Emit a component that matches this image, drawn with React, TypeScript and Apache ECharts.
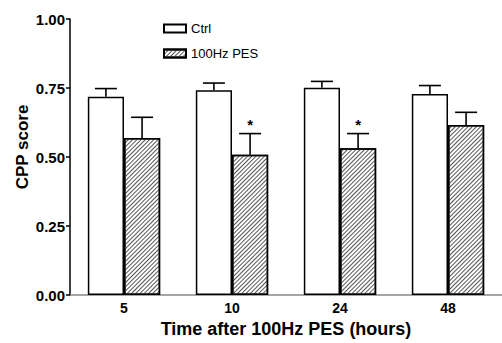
import React, { useEffect, useRef } from "react";
import * as echarts from "echarts";

const categories = ["5", "10", "24", "48"];
const ctrlMean = [0.718, 0.742, 0.751, 0.728];
const ctrlSem = [0.03, 0.026, 0.023, 0.031];
const pesMean = [0.569, 0.508, 0.532, 0.616];
const pesSem = [0.075, 0.077, 0.053, 0.046];
const pesSignificant = [false, true, true, false];
const yTicks = [0, 0.25, 0.5, 0.75, 1.0];
const yTitle = "CPP score";
const xTitle = "Time after 100Hz PES (hours)";

const FONT = "'Liberation Sans', Arial, sans-serif";

function errorSeries(name: string, means: number[], sems: number[], sig: boolean[], sign: number) {
  return {
    type: "custom",
    name: name + " err",
    silent: true,
    z: 5,
    encode: { x: 0, y: 1 },
    data: means.map((m, i) => [i, m, sems[i], sig[i] ? 1 : 0]),
    renderItem: (params: any, api: any) => {
      const i = api.value(0);
      const m = api.value(1);
      const s = api.value(2);
      const star = api.value(3);
      const base = api.coord([i, m]);
      const top = api.coord([i, m + s]);
      const band = api.size([1, 0])[0];
      const x = base[0] + sign * band * 0.1675;
      const cap = 11;
      const st = { stroke: "#000", lineWidth: 1.6 };
      const children: any[] = [
        { type: "line", shape: { x1: x, y1: base[1], x2: x, y2: top[1] }, style: st },
        { type: "line", shape: { x1: x - cap, y1: top[1], x2: x + cap, y2: top[1] }, style: st },
      ];
      if (star) {
        children.push({
          type: "text",
          style: {
            text: "*",
            x: x,
            y: top[1] - 2,
            textAlign: "center",
            textVerticalAlign: "bottom",
            fontSize: 15,
            fontWeight: "bold",
            fontFamily: FONT,
            fill: "#000",
          },
        });
      }
      return { type: "group", children };
    },
  };
}

export default function App() {
  const ref = useRef<HTMLDivElement>(null);
  useEffect(() => {
    document.body.style.margin = "0";
    const chart = echarts.init(ref.current!, null, { renderer: "svg" });
    const hatch = {
      symbol: "rect",
      symbolSize: 1,
      dashArrayX: [1, 0],
      dashArrayY: [1, 2],
      rotation: -Math.PI / 4,
      color: "#555",
      backgroundColor: "#fff",
    };
    chart.setOption({
      animation: false,
      backgroundColor: "#fff",
      textStyle: { fontFamily: FONT },
      grid: { left: 70, top: 19, bottom: 47, width: 440 },
      legend: {
        orient: "vertical",
        left: 158,
        top: 17,
        itemWidth: 22,
        itemHeight: 8,
        itemGap: 12,
        icon: "rect",
        textStyle: { fontSize: 13, color: "#000", fontFamily: FONT },
        data: ["Ctrl", "100Hz PES"],
      },
      graphic: [
        {
          type: "text",
          x: 22,
          y: 147,
          rotation: Math.PI / 2,
          style: {
            text: yTitle,
            textAlign: "center",
            textVerticalAlign: "middle",
            fontSize: 17,
            fontWeight: "bold",
            fontFamily: FONT,
            fill: "#000",
          },
        },
      ],
      xAxis: {
        type: "category",
        data: categories,
        axisLine: { lineStyle: { color: "#888", width: 1.5 } },
        axisTick: { show: false },
        axisLabel: { fontSize: 14, fontWeight: "bold", color: "#000", margin: 6 },
        name: xTitle,
        nameLocation: "middle",
        nameGap: 24,
        nameTextStyle: { fontSize: 18, fontWeight: "bold", color: "#000" },
      },
      yAxis: {
        type: "value",
        min: yTicks[0],
        max: yTicks[yTicks.length - 1],
        interval: 0.25,
        splitLine: { show: false },
        axisLine: { show: true, lineStyle: { color: "#000", width: 1.5 } },
        axisTick: { show: true, length: 4, lineStyle: { color: "#000", width: 1.5 } },
        axisLabel: {
          fontSize: 15,
          fontWeight: "bold",
          color: "#000",
          margin: 5,
          formatter: (v: number) => v.toFixed(2),
        },
      },
      series: [
        {
          type: "bar",
          name: "Ctrl",
          data: ctrlMean,
          barGap: "0%",
          barCategoryGap: "33%",
          itemStyle: { color: "#fff", borderColor: "#000", borderWidth: 1.5 },
        },
        {
          type: "bar",
          name: "100Hz PES",
          data: pesMean,
          itemStyle: { color: "#fff", borderColor: "#000", borderWidth: 1.5, decal: hatch },
        },
        errorSeries("Ctrl", ctrlMean, ctrlSem, [false, false, false, false], -1),
        errorSeries("100Hz PES", pesMean, pesSem, pesSignificant, 1),
      ],
    });
    return () => chart.dispose();
  }, []);
  return <div ref={ref} style={{ width: 502, height: 343 }} />;
}
